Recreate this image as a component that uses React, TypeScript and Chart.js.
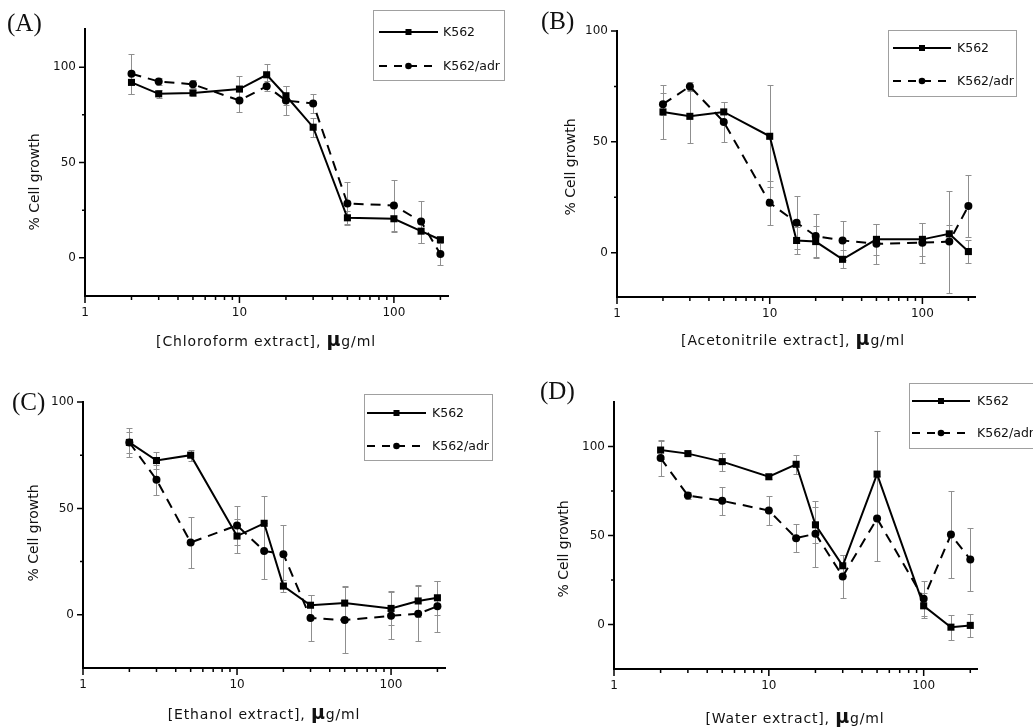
import React, { useEffect, useRef } from 'react';
import { Chart, registerables } from 'chart.js';

Chart.register(...registerables);

const SANS = '"DejaVu Sans", sans-serif';
const SERIF = '"Liberation Serif", "DejaVu Serif", serif';

// ---------- data ----------
const doses = [2, 3, 5, 10, 15, 20, 30, 50, 100, 150, 200];
const xTickValues = [1, 2, 3, 4, 5, 6, 7, 8, 9, 10, 20, 30, 40, 50, 60, 70, 80, 90, 100, 200];
const xTickLabels = [1, 10, 100];
const yTickValues = [0, 25, 50, 75, 100];
const yTickLabels = [0, 50, 100];
const seriesNames = ['K562', 'K562/adr'];

// (A) Chloroform extract
const k562A = [92, 86, 86.5, 88.5, 96, 85, 68.5, 21, 20.5, 14, 9.5];
const k562AErr = [6, 2, 1.5, 7, 5.5, 5, 5, 3.5, 7, 6, 1];
const adrA = [96.5, 92.5, 91, 82.5, 90, 82.5, 81, 28.5, 27.5, 19, 2];
const adrAErr = [10.5, 2, 2, 6, 2.5, 7.5, 5, 11.5, 13.5, 11, 6];

// (B) Acetonitrile extract
const k562B = [63.5, 61.5, 63.5, 52.5, 5.5, 5, -3, 6, 6, 8.5, 0.5];
const k562BErr = [12, 12, 4.5, 23, 6, 7, 4, 7, 7.5, 4, 5];
const adrB = [67, 75, 59, 22.5, 13.5, 7.5, 5.5, 4, 4.5, 5, 21];
const adrBErr = [5, 2, 9, 10, 12, 10, 9, 9, 9, 23, 14];

// (C) Ethanol extract
const k562C = [81, 72.5, 75, 37, 43, 13.5, 4.5, 5.5, 3, 6.5, 8];
const k562CErr = [7, 4, 2.5, 8, 13, 3, 5, 8, 8, 7.5, 8];
const adrC = [81, 63.5, 34, 42, 30, 28.5, -1.5, -2.5, -0.5, 0.5, 4];
const adrCErr = [5, 7, 12, 9, 13, 13.5, 11, 15.5, 11, 13, 12];

// (D) Water extract
const k562D = [98, 96, 91.5, 83, 90, 56, 33, 84.5, 10.5, -1.5, -0.5];
const k562DErr = [5, 1, 5, 1.5, 5.5, 10, 6, 24, 7, 7, 6.5];
const adrD = [93.5, 72.5, 69.5, 64, 48.5, 51, 27, 59.5, 14.5, 50.5, 36.5];
const adrDErr = [10, 2, 8, 8, 8, 18.5, 12, 24, 10, 24.5, 17.5];

// ---------- plugins ----------
const errorBarPlugin = {
  id: 'errorBars',
  beforeDatasetsDraw(chart: any) {
    const { ctx, scales } = chart;
    const x = scales.x, y = scales.y;
    ctx.save();
    ctx.strokeStyle = '#8f8f8f';
    ctx.lineWidth = 1;
    chart.data.datasets.forEach((ds: any) => {
      ds.data.forEach((pt: any, i: number) => {
        const e = ds.errors[i];
        const px = Math.round(x.getPixelForValue(pt.x)) + 0.5;
        const yt = Math.round(y.getPixelForValue(pt.y + e)) + 0.5;
        const yb = Math.round(y.getPixelForValue(pt.y - e)) + 0.5;
        ctx.beginPath();
        ctx.moveTo(px, yt); ctx.lineTo(px, yb);
        ctx.moveTo(px - 3, yt); ctx.lineTo(px + 3, yt);
        ctx.moveTo(px - 3, yb); ctx.lineTo(px + 3, yb);
        ctx.stroke();
      });
    });
    ctx.restore();
  },
};

const tickPlugin = {
  id: 'axisTicks',
  afterDraw(chart: any) {
    const { ctx, chartArea, scales } = chart;
    const x = scales.x, y = scales.y;
    ctx.save();
    ctx.strokeStyle = '#000';
    ctx.lineWidth = 1.5;
    ctx.beginPath();
    xTickValues.forEach((v) => {
      if (v < x.min || v > x.max) return;
      const px = x.getPixelForValue(v);
      const len = xTickLabels.includes(v) ? 7 : 4;
      ctx.moveTo(px, chartArea.bottom);
      ctx.lineTo(px, chartArea.bottom + len);
    });
    yTickValues.forEach((v) => {
      if (v < y.min || v > y.max) return;
      const py = y.getPixelForValue(v);
      const len = yTickLabels.includes(v) ? 6 : 3;
      ctx.moveTo(chartArea.left, py);
      ctx.lineTo(chartArea.left - len, py);
    });
    ctx.stroke();
    ctx.restore();
  },
};

const boxLegendPlugin = {
  id: 'boxLegend',
  afterDraw(chart: any, _args: any, opts: any) {
    const { ctx } = chart;
    ctx.save();
    ctx.strokeStyle = '#a0a0a0';
    ctx.lineWidth = 1;
    ctx.strokeRect(opts.x + 0.5, opts.y + 0.5, opts.w, opts.h);
    chart.data.datasets.forEach((ds: any, i: number) => {
      const ry = opts.y + opts.rows[i];
      const lx = opts.x + opts.pad;
      ctx.strokeStyle = ds.borderColor;
      ctx.lineWidth = ds.borderWidth;
      ctx.setLineDash(ds.legendDash || []);
      ctx.beginPath();
      ctx.moveTo(lx, ry);
      ctx.lineTo(lx + opts.len, ry);
      ctx.stroke();
      ctx.setLineDash([]);
      const cx = lx + opts.len / 2;
      ctx.fillStyle = ds.borderColor;
      if (ds.pointStyle === 'rect') {
        ctx.fillRect(cx - 3, ry - 3, 6, 6);
      } else {
        ctx.beginPath();
        ctx.arc(cx, ry, 3.3, 0, Math.PI * 2);
        ctx.fill();
      }
      ctx.fillStyle = '#111';
      ctx.font = `12.5px ${SANS}`;
      ctx.textBaseline = 'middle';
      ctx.textAlign = 'left';
      ctx.fillText(ds.label, lx + opts.len + opts.gap, ry + 0.5);
    });
    ctx.restore();
  },
};

// ---------- panel layout ----------
const panels = [
  {
    key: 'A', left: 0, top: 0, w: 515, h: 345,
    area: { l: 85, t: 29, r: 448, b: 296 }, yMin: -20, yMax: 120, xMax: 224,
    k562: k562A, k562Err: k562AErr, adr: adrA, adrErr: adrAErr,
    legend: { x: 373, y: 10, w: 131, h: 70, rows: [22, 56], pad: 6, len: 59, gap: 5 },
    label: { text: '(A)', x: 7, y: 22 },
    yTitle: { x: 34, y: 182 },
    xTitle: { text: '[Chloroform extract], ', x: 266, y: 339 },
  },
  {
    key: 'B', left: 515, top: 0, w: 518, h: 345,
    area: { l: 102, t: 31, r: 460, b: 297 }, yMin: -20, yMax: 100, xMax: 221,
    k562: k562B, k562Err: k562BErr, adr: adrB, adrErr: adrBErr,
    legend: { x: 373, y: 30, w: 128, h: 66, rows: [18, 51], pad: 5, len: 58, gap: 6 },
    label: { text: '(B)', x: 541, y: 20 },
    yTitle: { x: 570, y: 167 },
    xTitle: { text: '[Acetonitrile extract], ', x: 793, y: 338 },
  },
  {
    key: 'C', left: 0, top: 345, w: 515, h: 382,
    area: { l: 83, t: 57, r: 445, b: 323 }, yMin: -25, yMax: 100, xMax: 224,
    k562: k562C, k562Err: k562CErr, adr: adrC, adrErr: adrCErr,
    legend: { x: 364, y: 49, w: 128, h: 66, rows: [19, 52], pad: 3, len: 59, gap: 6 },
    label: { text: '(C)', x: 12, y: 401 },
    yTitle: { x: 33, y: 533 },
    xTitle: { text: '[Ethanol extract], ', x: 264, y: 712 },
  },
  {
    key: 'D', left: 515, top: 345, w: 518, h: 382,
    area: { l: 99, t: 57, r: 462, b: 324 }, yMin: -25, yMax: 125, xMax: 221,
    k562: k562D, k562Err: k562DErr, adr: adrD, adrErr: adrDErr,
    legend: { x: 394, y: 38, w: 150, h: 65, rows: [18, 50], pad: 3, len: 58, gap: 7 },
    label: { text: '(D)', x: 540, y: 390 },
    yTitle: { x: 563, y: 549 },
    xTitle: { text: '[Water extract], ', x: 795, y: 716 },
  },
];

function toPoints(vals: number[]) {
  return doses.map((d, i) => ({ x: d, y: vals[i] }));
}

function Panel({ p }: { p: any }) {
  const ref = useRef<HTMLCanvasElement | null>(null);
  useEffect(() => {
    if (!ref.current) return;
    const a = p.area;
    const chart = new Chart(ref.current, {
      type: 'line',
      data: {
        datasets: [
          {
            label: seriesNames[0],
            data: toPoints(p.k562),
            errors: p.k562Err,
            borderColor: '#000',
            backgroundColor: '#000',
            borderWidth: 2,
            pointStyle: 'rect',
            pointRadius: 5,
            pointBackgroundColor: '#000',
            pointBorderWidth: 0,
            tension: 0,
          } as any,
          {
            label: seriesNames[1],
            data: toPoints(p.adr),
            errors: p.adrErr,
            borderColor: '#000',
            backgroundColor: '#000',
            borderWidth: 2,
            borderDash: [10, 7],
            legendDash: [8, 7],
            pointStyle: 'circle',
            pointRadius: 4,
            pointBackgroundColor: '#000',
            pointBorderWidth: 0,
            tension: 0,
          } as any,
        ],
      },
      options: {
        responsive: false,
        animation: false,
        events: [],
        layout: { padding: { left: 0, top: a.t, right: p.w - a.r, bottom: 0 } },
        scales: {
          x: {
            type: 'logarithmic',
            min: 1,
            max: p.xMax,
            afterBuildTicks: (s: any) => {
              s.ticks = xTickValues.filter((v) => v <= p.xMax).map((v) => ({ value: v }));
            },
            afterFit: (s: any) => { s.height = p.h - a.b; },
            grid: { display: true, drawOnChartArea: false, drawTicks: true, tickLength: 7, color: 'rgba(0,0,0,0)' },
            border: { display: true, color: '#000', width: 2 },
            ticks: {
              autoSkip: false,
              maxRotation: 0,
              padding: 3,
              color: '#111',
              font: { family: SANS, size: 12 },
              callback: (v: any) => (xTickLabels.includes(Number(v)) ? String(v) : ''),
            },
          },
          y: {
            type: 'linear',
            min: p.yMin,
            max: p.yMax,
            afterBuildTicks: (s: any) => {
              s.ticks = yTickValues.map((v) => ({ value: v }));
            },
            afterFit: (s: any) => { s.width = a.l; },
            grid: { display: true, drawOnChartArea: false, drawTicks: true, tickLength: 6, color: 'rgba(0,0,0,0)' },
            border: { display: true, color: '#000', width: 2 },
            ticks: {
              autoSkip: false,
              padding: 3,
              color: '#111',
              font: { family: SANS, size: 12 },
              callback: (v: any) => (yTickLabels.includes(Number(v)) ? String(v) : ''),
            },
          },
        },
        plugins: {
          legend: { display: false },
          tooltip: { enabled: false },
          boxLegend: p.legend,
        } as any,
      },
      plugins: [errorBarPlugin, tickPlugin, boxLegendPlugin],
    } as any);
    return () => chart.destroy();
  }, [p]);
  return (
    <canvas
      ref={ref}
      width={p.w}
      height={p.h}
      style={{ position: 'absolute', left: p.left, top: p.top, width: p.w, height: p.h }}
    />
  );
}

export default function App() {
  return (
    <div style={{ position: 'absolute', left: 0, top: 0, width: 1033, height: 727, background: '#fff', overflow: 'hidden' }}>
      {panels.map((p) => (
        <Panel key={p.key} p={p} />
      ))}
      {panels.map((p) => (
        <React.Fragment key={'t' + p.key}>
          <div
            style={{
              position: 'absolute', left: p.label.x, top: p.label.y, transform: 'translateY(-50%)',
              fontFamily: SERIF, fontSize: 25, lineHeight: 1, color: '#111', whiteSpace: 'nowrap',
            }}
          >
            {p.label.text}
          </div>
          <div
            style={{
              position: 'absolute', left: p.yTitle.x, top: p.yTitle.y,
              transform: 'translate(-50%, -50%) rotate(-90deg)',
              fontFamily: SANS, fontSize: 14, lineHeight: 1, color: '#111', whiteSpace: 'nowrap',
            }}
          >
            % Cell growth
          </div>
          <div
            style={{
              position: 'absolute', left: p.xTitle.x, top: p.xTitle.y, transform: 'translate(-50%, -50%)',
              fontFamily: SANS, fontSize: 14, lineHeight: 1, letterSpacing: '0.85px', color: '#111', whiteSpace: 'nowrap',
            }}
          >
            {p.xTitle.text}
            <span style={{ fontWeight: 'bold', fontSize: 19 }}>μ</span>g/ml
          </div>
        </React.Fragment>
      ))}
    </div>
  );
}
